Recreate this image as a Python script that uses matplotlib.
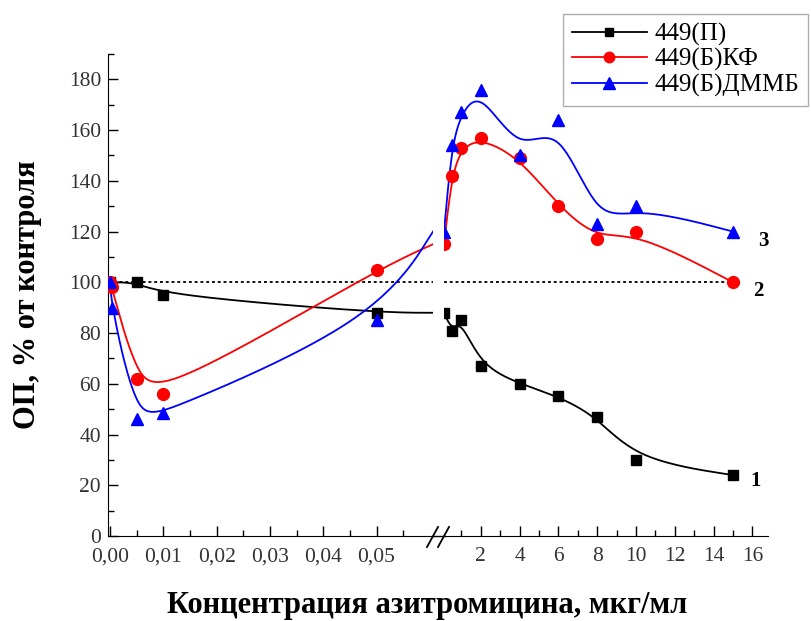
import numpy as np
import matplotlib
matplotlib.use("Agg")
import matplotlib.pyplot as plt
from matplotlib.lines import Line2D
from matplotlib.ticker import MultipleLocator, FixedLocator, FuncFormatter

plt.rcParams['font.family'] = ['Liberation Serif', 'DejaVu Serif']

# concentrations before the axis break (left panel) and after it (right panel)
x_low_p = [0.0, 0.005, 0.01, 0.05]
x_low_b = [0.0, 0.0003, 0.005, 0.01, 0.05]
x_high = [0.1, 0.5, 1, 2, 4, 6, 8, 10, 15]

# 449(П)
y_low_p = [100, 100, 95, 88]
y_high_p = [88, 81, 85, 67, 60, 55, 47, 30, 24]
# 449(Б)КФ
y_low_kf = [100, 98, 62, 56, 105]
y_high_kf = [115, 142, 153, 157, 149, 130, 117, 120, 100]
# 449(Б)ДММБ
y_low_dm = [100, 90, 46, 48.5, 85]
y_high_dm = [120, 154, 167, 176, 150, 164, 123, 130, 120]

low_ticks = [0.0, 0.01, 0.02, 0.03, 0.04, 0.05]
labels = ["449(П)", "449(Б)КФ", "449(Б)ДММБ"]
curve_ids = ["1", "2", "3"]

W, H = 812, 621


def fx(px):
    return px / W


def fy(py):
    return 1 - py / H


def bspline(xs, ys, n=60):
    # uniform cubic B-spline, end points tripled so the curve is pinned there
    P = np.column_stack([xs, ys]).astype(float)
    P = np.vstack([P[:1], P[:1], P, P[-1:], P[-1:]])
    t = np.linspace(0, 1, n)[:, None]
    b0 = (1 - t) ** 3 / 6
    b1 = (3 * t ** 3 - 6 * t ** 2 + 4) / 6
    b2 = (-3 * t ** 3 + 3 * t ** 2 + 3 * t + 1) / 6
    b3 = t ** 3 / 6
    segs = [b0 * P[i] + b1 * P[i + 1] + b2 * P[i + 2] + b3 * P[i + 3]
            for i in range(len(P) - 3)]
    c = np.vstack(segs)
    return c[:, 0], c[:, 1]


fig = plt.figure(figsize=(W / 100, H / 100), dpi=100)
bottom, top = 536, 54
ax1 = fig.add_axes([fx(108), fy(bottom), fx(433 - 108), (bottom - top) / H])
ax2 = fig.add_axes([fx(444), fy(bottom), fx(768 - 444), (bottom - top) / H], sharey=ax1)

ax1.set_xlim(-0.0004, 0.0606)
ax2.set_xlim(0.1, 16.8)
ax1.set_ylim(0, 190)

series = [
    (x_low_p, y_low_p, y_high_p, "black", "s", 7),
    (x_low_b, y_low_kf, y_high_kf, "#ff0000", "o", 8.5),
    (x_low_b, y_low_dm, y_high_dm, "#0000ff", "^", 9),
]
id_offsets = [(16, -4), (18, -6), (22, -7)]

# control level
ax1.axhline(100, color="black", lw=1.3, ls=(0, (1.6, 1.6)), zorder=1)
ax2.hlines(100, ax2.get_xlim()[0], x_high[-1], color="black", lw=1.3,
           ls=(0, (1.6, 1.6)), zorder=1)

handles = []
x_edge = ax1.get_xlim()[1]
for (xl, yl, yh, col, mk, ms), lab, cid, off in zip(series, labels, curve_ids, id_offsets):
    # left piece runs up to the break, right piece starts after it
    cx, cy = bspline(list(xl) + [x_edge], list(yl) + [yh[0]])
    ax1.plot(cx, cy, color=col, lw=1.3, zorder=2)
    cx, cy = bspline(x_high, yh)
    ax2.plot(cx, cy, color=col, lw=1.3, zorder=2)
    ax1.plot(xl, yl, ls="none", marker=mk, ms=ms, color=col, mec=col, zorder=3)
    ax2.plot(x_high, yh, ls="none", marker=mk, ms=ms, color=col, mec=col, zorder=3)
    ax2.annotate(cid, xy=(x_high[-1], yh[-1]), xytext=off, textcoords="offset points",
                 ha="center", va="center", fontsize=15, fontweight="bold",
                 annotation_clip=False)
    handles.append(Line2D([], [], color=col, lw=1.3, marker=mk, ms=ms - 1, mec=col))

for ax in (ax1, ax2):
    ax.spines["top"].set_visible(False)
    ax.spines["right"].set_visible(False)
    ax.tick_params(which="major", direction="in", length=7, width=1,
                   labelsize=15.5, labelcolor="#333333")
    ax.tick_params(which="minor", direction="in", length=4, width=1)
    ax.set_facecolor("none")

ax2.spines["left"].set_visible(False)
ax2.tick_params(axis="y", which="both", left=False, labelleft=False)

ax1.xaxis.set_major_locator(FixedLocator(low_ticks))
ax1.xaxis.set_minor_locator(FixedLocator([v + 0.005 for v in low_ticks]))
ax1.xaxis.set_major_formatter(FuncFormatter(lambda v, p: f"{v:.2f}".replace(".", ",")))
ax1.yaxis.set_major_locator(MultipleLocator(20))
ax1.yaxis.set_minor_locator(MultipleLocator(10))
ax1.tick_params(axis="y", pad=5)
ax1.tick_params(axis="x", pad=8)
ax2.tick_params(axis="x", pad=8)
ax2.xaxis.set_major_locator(MultipleLocator(2))
ax2.xaxis.set_minor_locator(MultipleLocator(1))
ax2.xaxis.set_major_formatter(FuncFormatter(lambda v, p: f"{v:g}"))

# bottom axis continues through the gap, with the break marks on top
fig.add_artist(Line2D([fx(432), fx(445)], [fy(bottom), fy(bottom)], color="black", lw=1))
for x0 in (427, 438):
    fig.add_artist(Line2D([fx(x0), fx(x0 + 11)], [fy(547), fy(527)], color="black", lw=1.3))

fig.text(fx(28), fy(295), "ОП, % от контроля", rotation=90, ha="center", va="center",
         fontsize=22, fontweight="bold")
fig.text(fx(427), fy(606), "Концентрация азитромицина, мкг/мл", ha="center", va="center",
         fontsize=22, fontweight="bold")

fig.legend(handles, labels, loc="upper left", bbox_to_anchor=(fx(563), fy(14)),
           frameon=True, fancybox=False, edgecolor="#999999", fontsize=18,
           handlelength=3.0, handletextpad=0.3, labelspacing=0.1, borderpad=0.35,
           borderaxespad=0)

fig.savefig("out.png", dpi=100)
